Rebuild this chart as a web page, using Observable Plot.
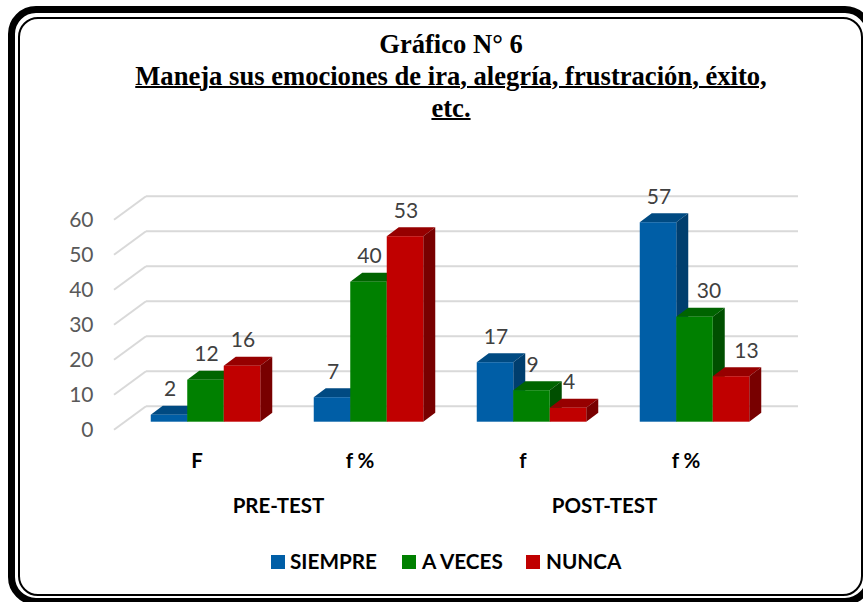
<!DOCTYPE html>
<html lang="es">
<head>
<meta charset="utf-8">
<script src="https://cdn.jsdelivr.net/npm/d3@7"></script>
<script src="https://cdn.jsdelivr.net/npm/@observablehq/plot@0.6"></script>
<style>
  html, body { margin: 0; padding: 0; background: #fff; overflow: hidden; }
  #page { position: relative; width: 863px; height: 602px; overflow: hidden; background: #fff; }
  .outer { position: absolute; box-sizing: border-box; left: 7.5px; top: 6px; width: 865.5px; height: 599px; border: 7.5px solid #000; border-radius: 28px; }
  .inner { position: absolute; box-sizing: border-box; left: 17.5px; top: 16.5px; width: 845px; height: 579px; border: 2px solid #000; border-radius: 20px; }
  #title { position: absolute; left: 51px; top: 28px; width: 800px; text-align: center; font: bold 26.6px/32px "Liberation Serif", serif; color: #000; white-space: nowrap; }
  #title u { text-decoration-thickness: 2px; }
  #chart { position: absolute; left: 0; top: 180px; }
  #legend { position: absolute; top: 548px; left: 0; height: 26px; font: bold 20.7px/26px Lato, sans-serif; color: #000; }
  #legend span { position: absolute; top: 0; white-space: nowrap; }
  #legend i { position: absolute; top: 7px; width: 14px; height: 14px; }
</style>
</head>
<body>
<div id="page">
  <div class="outer"></div>
  <div class="inner"></div>
  <div id="title">Gráfico N° 6<br><u>Maneja sus emociones de ira, alegría, frustración, éxito,</u><br><u>etc.</u></div>
  <div id="chart"></div>
  <div id="legend"></div>
</div>
<script>
const periods = ["PRE-TEST", "PRE-TEST", "POST-TEST", "POST-TEST"];
const measures = ["F", "f %", "f", "f %"];
const seriesNames = ["SIEMPRE", "A VECES", "NUNCA"];
const siempre = [2, 7, 17, 57];
const aVeces = [12, 40, 9, 30];
const nunca = [16, 53, 4, 13];
const yTicks = [0, 10, 20, 30, 40, 50, 60];

const frontColors = ["#005EA6", "#008000", "#C00000"];
const topColors = ["#004A82", "#006400", "#960000"];
const sideColors = ["#003E6E", "#004F00", "#780000"];

const groups = periods.map((p, i) => p + "|" + measures[i]);
const table = [siempre, aVeces, nunca].map((values, s) =>
  values.map((value, i) => ({group: groups[i], series: seriesNames[s], value}))
);

const barWidth = 36.5, bandWidth = 163;
const depthX = 12, depthY = -9;
const NS = "http://www.w3.org/2000/svg";

function poly(points, fill) {
  const p = document.createElementNS(NS, "polygon");
  p.setAttribute("points", points.map(d => d.join(",")).join(" "));
  p.setAttribute("fill", fill);
  return p;
}

// Extrudes every bar that Plot placed, giving it the top and side faces.
function extrude(s) {
  return function (index, scales, values, dimensions, context, next) {
    const g = next(index, scales, values, dimensions, context);
    for (const r of g.querySelectorAll("rect")) {
      const x = +r.getAttribute("x"), y = +r.getAttribute("y");
      const w = +r.getAttribute("width"), h = +r.getAttribute("height");
      r.before(poly([[x, y], [x + w, y], [x + w + depthX, y + depthY], [x + depthX, y + depthY]], topColors[s]));
      r.before(poly([[x + w, y], [x + w, y + h], [x + w + depthX, y + h + depthY], [x + w + depthX, y + depthY]], sideColors[s]));
    }
    return g;
  };
}

// Adds the slanted part of the gridlines on the left wall.
function wall(index, scales, values, dimensions, context, next) {
  const g = next(index, scales, values, dimensions, context);
  for (const l of g.querySelectorAll("line")) {
    const d = l.cloneNode();
    d.setAttribute("x2", l.getAttribute("x1"));
    d.setAttribute("y2", l.getAttribute("y1"));
    d.setAttribute("x1", +l.getAttribute("x1") - 32);
    d.setAttribute("y1", +l.getAttribute("y1") + 23.6);
    l.before(d);
  }
  return g;
}

const labelFont = {fontFamily: "Lato, sans-serif", fontSize: 21};
const boldFont = {fontFamily: "Lato, sans-serif", fontSize: 20.5, fontWeight: "bold"};

const marks = [
  Plot.ruleY(yTicks, {y: d => d, stroke: "#D9D9D9", strokeWidth: 2, dx: 22, dy: -16, render: wall})
];

table.forEach((rows, s) => {
  marks.push(Plot.barY(rows, {
    x: "group", y: "value", fill: frontColors[s],
    insetLeft: (bandWidth - barWidth) / 2, insetRight: (bandWidth - barWidth) / 2,
    dx: (s - 1) * barWidth, render: extrude(s)
  }));
});

table.forEach((rows, s) => {
  const shifted = d => d.group === groups[3] && s > 0;
  marks.push(Plot.text(rows.filter(d => !shifted(d)), {
    x: "group", y: "value", text: "value", fill: "#404040", ...labelFont,
    dx: (s - 1) * barWidth + 0.5, dy: -25.5
  }));
  marks.push(Plot.text(rows.filter(shifted), {
    x: "group", y: "value", text: "value", fill: "#404040", ...labelFont,
    dx: (s - 1) * barWidth + 13 + s, dy: -25.5
  }));
});

marks.push(Plot.axisY(yTicks, {
  anchor: "left", label: null, tickSize: 0, tickPadding: 31, dy: 8,
  fill: "#595959", ...labelFont
}));
marks.push(Plot.axisX({
  anchor: "bottom", label: null, tickSize: 0, tickPadding: 0, dx: -9, dy: 31,
  tickFormat: k => k.split("|")[1],
  fill: "#000", ...boldFont
}));
marks.push(Plot.text([groups[0], groups[2]], {
  x: d => d, frameAnchor: "bottom", text: d => d.split("|")[0],
  dx: bandWidth / 2 - 9, dy: 90.5,
  fill: "#000", ...boldFont
}));

const chart = Plot.plot({
  width: 863, height: 350,
  marginLeft: 124, marginRight: 87, marginTop: 31.7, marginBottom: 108.3,
  style: {background: "transparent", overflow: "visible"},
  x: {domain: groups, padding: 0, axis: null},
  y: {domain: [0, 60], axis: null},
  marks
});
document.getElementById("chart").append(chart);

const legendSpots = [[271, 290], [402, 422], [526, 546]];
const legend = document.getElementById("legend");
seriesNames.forEach((name, i) => {
  const sw = document.createElement("i");
  sw.style.left = legendSpots[i][0] + "px";
  sw.style.background = frontColors[i];
  const t = document.createElement("span");
  t.style.left = legendSpots[i][1] + "px";
  t.textContent = name;
  legend.append(sw, t);
});
</script>
</body>
</html>
